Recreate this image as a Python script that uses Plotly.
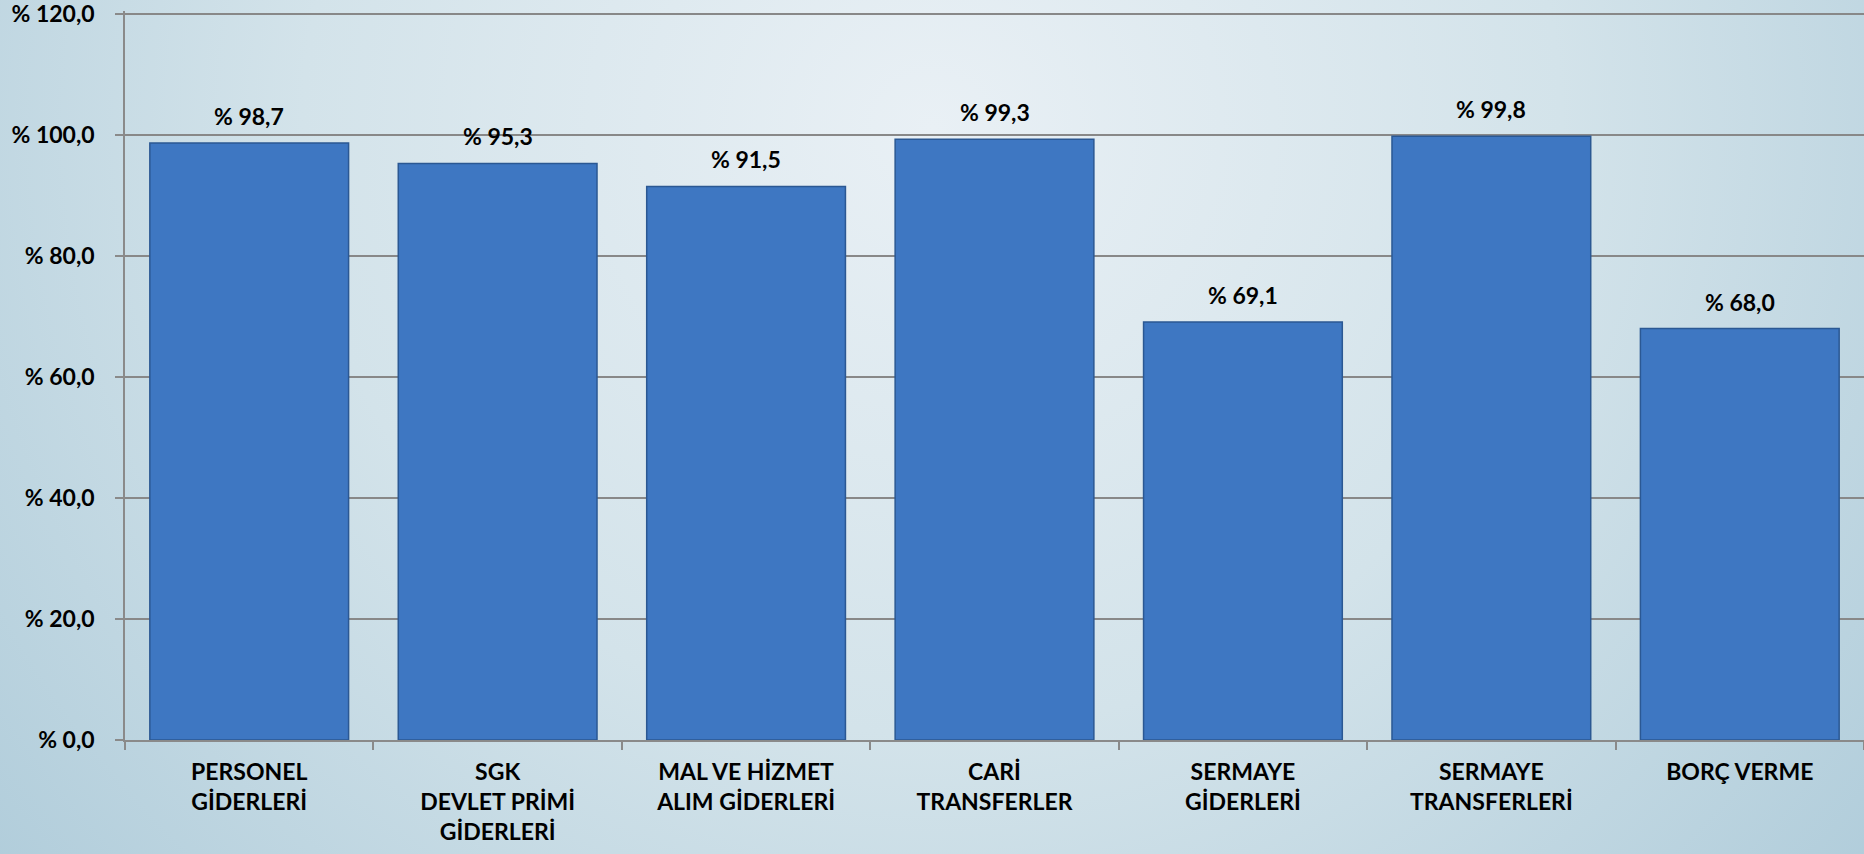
import base64
import plotly.graph_objects as go

categories = [
    "PERSONEL<br>GİDERLERİ",
    "SGK<br>DEVLET PRİMİ<br>GİDERLERİ",
    "MAL VE HİZMET<br>ALIM GİDERLERİ",
    "CARİ<br>TRANSFERLER",
    "SERMAYE<br>GİDERLERİ",
    "SERMAYE<br>TRANSFERLERİ",
    "BORÇ VERME",
]
values = [98.7, 95.3, 91.5, 99.3, 69.1, 99.8, 68.0]
tick_vals = [0, 20, 40, 60, 80, 100, 120]
tick_text = ["% 0,0", "% 20,0", "% 40,0", "% 60,0", "% 80,0", "% 100,0", "% 120,0"]
labels = ["% " + f"{v:.1f}".replace(".", ",") for v in values]

W, H = 1864, 854
L, R, T, B = 125, 0, 11, 114
pw, ph = W - L - R, H - T - B

bg_svg = f'''<svg xmlns="http://www.w3.org/2000/svg" width="{W}" height="{H}" viewBox="0 0 {W} {H}" preserveAspectRatio="none">
<defs><radialGradient id="g" cx="0.5" cy="0.15" r="0.75" gradientUnits="objectBoundingBox" gradientTransform="translate(0.5 0.15) scale(1 2.1) translate(-0.5 -0.15)">
<stop offset="0" stop-color="#e9f0f5"/><stop offset="0.45" stop-color="#d3e3ea"/><stop offset="1" stop-color="#a6c6d6"/>
</radialGradient></defs><rect width="{W}" height="{H}" fill="url(#g)"/></svg>'''
bg_uri = "data:image/svg+xml;base64," + base64.b64encode(bg_svg.encode()).decode()

font_family = "Lato, 'Open Sans', sans-serif"
bold22 = dict(family=font_family, size=23, color="#000000", weight="bold")

fig = go.Figure(
    go.Bar(
        x=categories,
        y=values,
        marker=dict(color="#3e77c2", line=dict(color="#2b5893", width=1.5)),
        hoverinfo="skip",
    )
)

for c, v, t in zip(categories, values, labels):
    fig.add_annotation(
        x=c, y=v, xref="x", yref="y", text=t, showarrow=False,
        yanchor="bottom", yshift=11, font=bold22,
    )

fig.update_layout(
    width=W,
    height=H,
    margin=dict(l=L, r=R, t=T, b=B, pad=0),
    paper_bgcolor="#c5dbe5",
    plot_bgcolor="rgba(0,0,0,0)",
    bargap=0.2,
    showlegend=False,
    font=bold22,
    images=[
        dict(
            source=bg_uri,
            xref="paper",
            yref="paper",
            x=-L / pw,
            y=1 + T / ph,
            sizex=W / pw,
            sizey=H / ph,
            sizing="stretch",
            xanchor="left",
            yanchor="top",
            layer="below",
        )
    ],
)

fig.update_xaxes(
    showline=True,
    linecolor="#8a8a8a",
    linewidth=1.5,
    ticks="outside",
    tickson="boundaries",
    ticklen=8,
    tickcolor="#8a8a8a",
    tickwidth=1.5,
    tickfont=bold22,
    ticklabelstandoff=11,
    showgrid=False,
)
fig.update_yaxes(
    range=[0, 120.5],
    tickvals=tick_vals,
    ticktext=tick_text,
    showline=True,
    linecolor="#8a8a8a",
    linewidth=1.5,
    ticks="outside",
    ticklen=8,
    tickcolor="#8a8a8a",
    tickwidth=1.5,
    showgrid=True,
    gridcolor="#888888",
    gridwidth=1.5,
    zeroline=False,
    tickfont=bold22,
    ticklabelstandoff=16,
    ticklabeloverflow="allow",
)

fig.write_html(
    "out.html",
    config={"displayModeBar": False},
    post_script="document.body.style.margin='0';document.body.style.overflow='hidden';",
)
